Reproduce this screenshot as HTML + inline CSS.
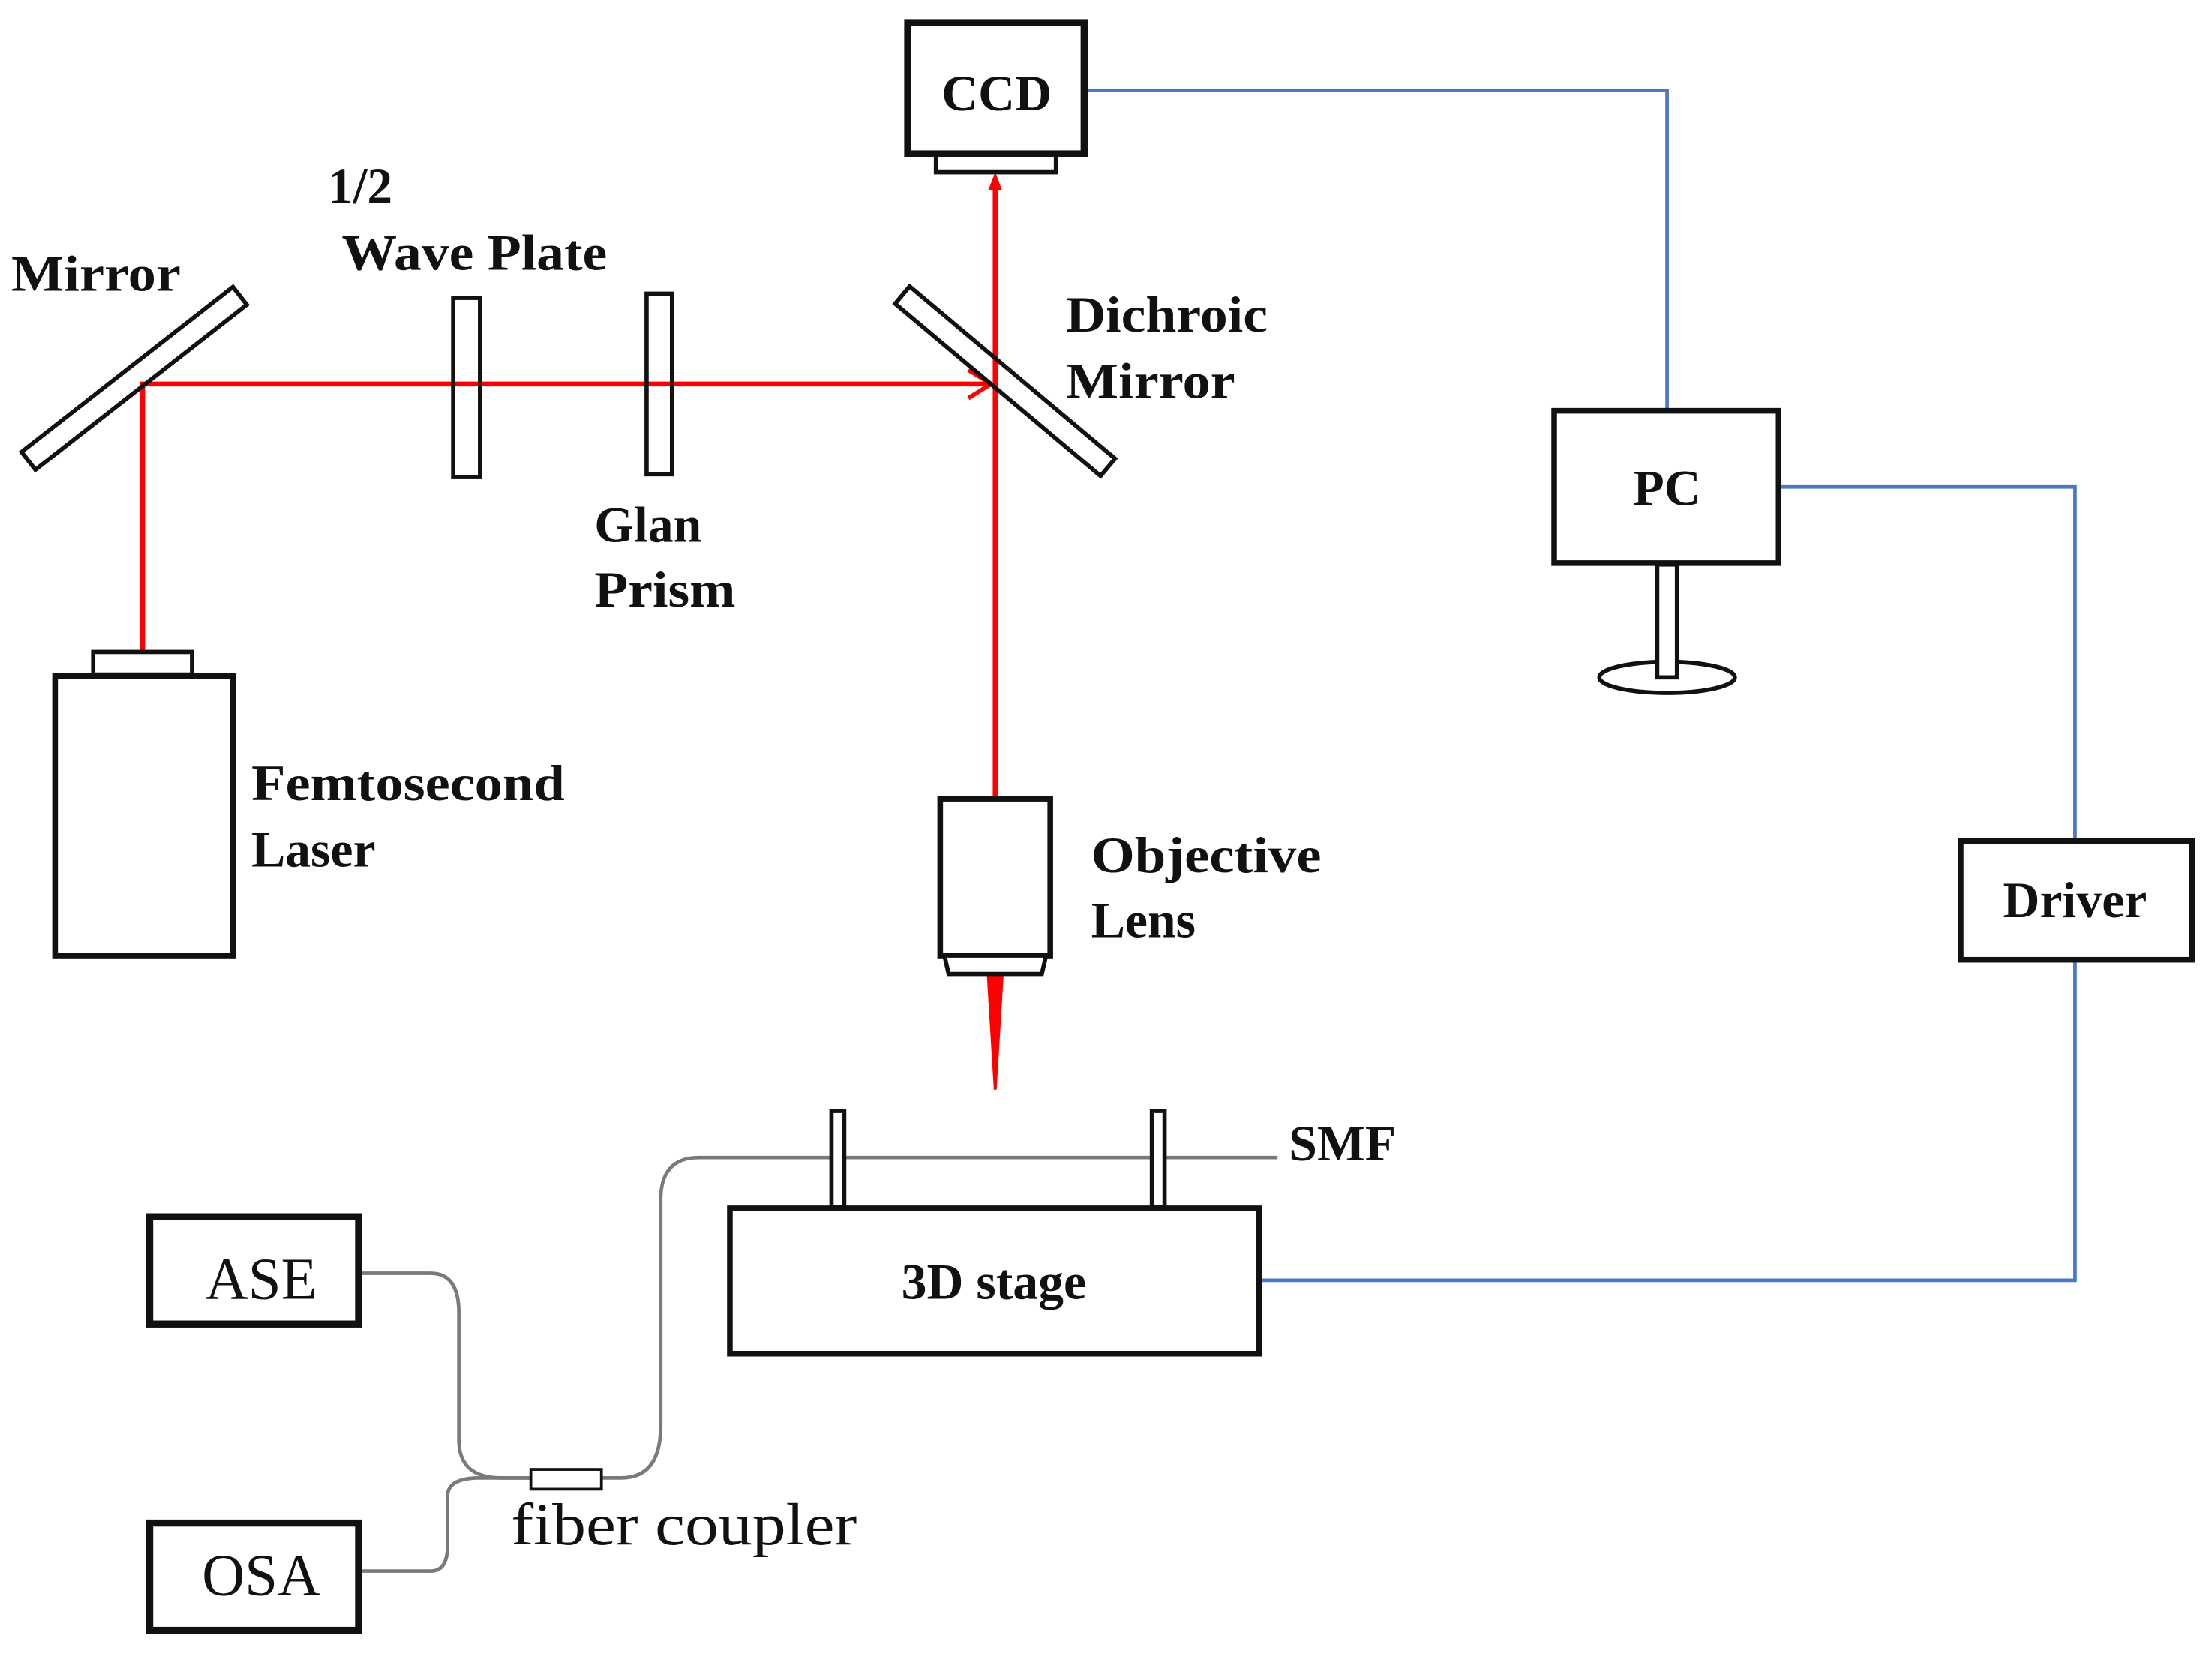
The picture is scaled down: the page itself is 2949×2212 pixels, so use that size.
<!DOCTYPE html>
<html><head><meta charset="utf-8"><style>
html,body{margin:0;padding:0;background:#fff;}
svg{display:block;}
.b{font-family:"Liberation Serif",serif;font-weight:bold;font-size:36px;fill:#111;}
.r{font-family:"Liberation Serif",serif;font-size:42px;fill:#111;}
</style></head><body>
<svg width="2949" height="2212" viewBox="0 0 1567 1175.4" preserveAspectRatio="none" xmlns="http://www.w3.org/2000/svg">
<rect width="1567" height="1176" fill="#fff"/>
<g fill="none" stroke="#4a78c8" stroke-width="2.5">
<polyline points="769,64 1181,64 1181,290"/>
<polyline points="1261,345 1470,345 1470,595"/>
<polyline points="1470,680 1470,907 893,907"/>
</g>
<g fill="none" stroke="#7a7a7a" stroke-width="2.5">
<path d="M905,820 L495,820 Q468,820 468,850 L468,1010 Q468,1047 440,1047 L426,1047"/>
<path d="M255,902 L305,902 Q325,902 325,930 L325,1020 Q325,1047 355,1047 L376,1047"/>
<path d="M255,1113 L305,1113 Q317,1113 317,1095 L317,1060 Q317,1047 340,1047 L376,1047"/>
</g>
<rect x="376" y="1041" width="50" height="14" fill="#fff" stroke="#111" stroke-width="2"/>
<g stroke="#ff0000" stroke-width="3.5" fill="none">
<polyline points="101,462 101,272 700,272"/>
<line x1="705" y1="565" x2="705" y2="130"/>
<polyline points="686,262 702,272 686,282" stroke-width="3"/>
</g>
<polygon points="700,135 705,122 710,135" fill="#ff0000"/>
<polygon points="699,690 711,690 706,772 704,772" fill="#ff0000"/>
<g stroke="#111" stroke-width="3" fill="none">
<rect x="-95" y="-8" width="190" height="16" transform="translate(95,268) rotate(-38)"/>
<rect x="-95" y="-8" width="190" height="16" transform="translate(712,270) rotate(40)"/>
<rect x="321" y="211" width="19" height="127"/>
<rect x="458" y="208" width="18" height="128"/>
</g>
<g stroke="#111" fill="#fff">
<rect x="66" y="462" width="70" height="16" stroke-width="3"/>
<rect x="39" y="479" width="126" height="198" stroke-width="4"/>
<rect x="666" y="566" width="78" height="111" stroke-width="4"/>
<polygon points="669,677 741,677 738,690 672,690" stroke-width="3"/>
<rect x="663" y="109" width="85" height="13" stroke-width="3"/>
<rect x="643" y="16" width="125" height="93" stroke-width="5"/>
<ellipse cx="1181" cy="480" rx="48" ry="11" stroke-width="3"/>
<rect x="1174" y="400" width="14" height="80" stroke-width="3"/>
<rect x="1101" y="291" width="159" height="108" stroke-width="4"/>
<rect x="1389" y="596" width="164" height="84" stroke-width="4"/>
<rect x="589" y="787" width="9" height="68" stroke-width="3"/>
<rect x="816" y="787" width="9" height="68" stroke-width="3"/>
<rect x="517" y="856" width="375" height="103" stroke-width="4"/>
<rect x="106" y="862" width="148" height="76" stroke-width="5"/>
<rect x="106" y="1079" width="148" height="76" stroke-width="5"/>
</g>
<text class="b" x="8" y="206" textLength="120" lengthAdjust="spacingAndGlyphs">Mirror</text>
<text class="b" x="232" y="144">1/2</text>
<text class="b" x="242" y="191" textLength="188" lengthAdjust="spacingAndGlyphs">Wave Plate</text>
<text class="b" x="421" y="384">Glan</text>
<text class="b" x="421" y="430" textLength="100" lengthAdjust="spacingAndGlyphs">Prism</text>
<text class="b" x="755" y="235" textLength="143" lengthAdjust="spacingAndGlyphs">Dichroic</text>
<text class="b" x="755" y="282" textLength="120" lengthAdjust="spacingAndGlyphs">Mirror</text>
<text class="b" x="178" y="567" textLength="222" lengthAdjust="spacingAndGlyphs">Femtosecond</text>
<text class="b" x="178" y="614">Laser</text>
<text class="b" x="773" y="618" textLength="163" lengthAdjust="spacingAndGlyphs">Objective</text>
<text class="b" x="773" y="664">Lens</text>
<text class="b" x="706" y="78" text-anchor="middle">CCD</text>
<text class="b" x="1181" y="358" text-anchor="middle">PC</text>
<text class="b" x="1470" y="650" text-anchor="middle">Driver</text>
<text class="b" x="704" y="920" text-anchor="middle">3D stage</text>
<text class="b" x="913" y="822">SMF</text>
<text class="r" x="185" y="920" text-anchor="middle">ASE</text>
<text class="r" x="185" y="1130" text-anchor="middle">OSA</text>
<text class="r" x="362" y="1094" textLength="245" lengthAdjust="spacingAndGlyphs">fiber coupler</text>
</svg>
</body></html>
